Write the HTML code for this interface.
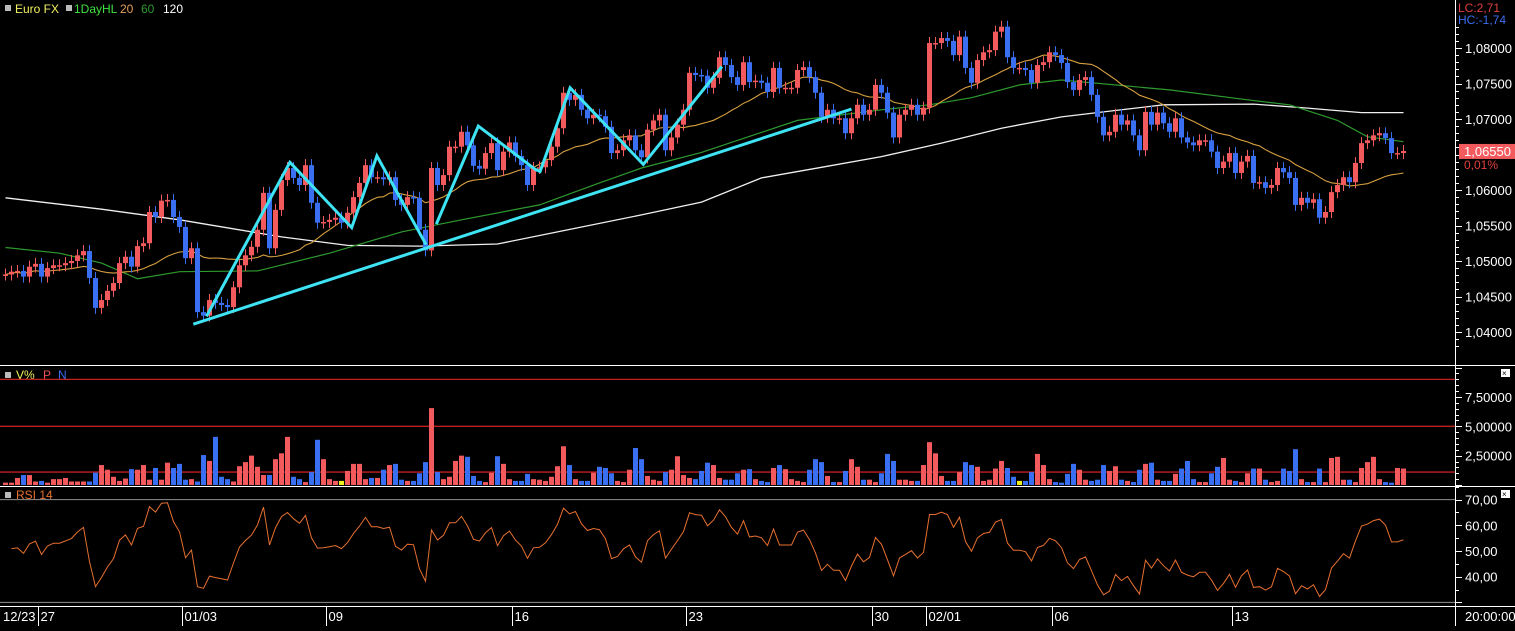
<!DOCTYPE html>
<html><head><meta charset="utf-8">
<style>
html,body{margin:0;padding:0;background:#000;}
body{width:1515px;height:626px;overflow:hidden;font-family:"Liberation Sans",sans-serif;}
svg text{font-family:"Liberation Sans",sans-serif;}
</style></head>
<body>
<svg id="chart" width="1515" height="626" viewBox="0 0 1515 626" xmlns="http://www.w3.org/2000/svg">
<rect x="0" y="0" width="1515" height="626" fill="#000"/>
<g id="frame">
<line x1="0" y1="365.5" x2="1515" y2="365.5" stroke="#fff" stroke-width="1"/>
<line x1="0" y1="486.5" x2="1515" y2="486.5" stroke="#fff" stroke-width="1"/>
<line x1="0" y1="606.5" x2="1515" y2="606.5" stroke="#fff" stroke-width="1"/>
<line x1="1455.5" y1="0" x2="1455.5" y2="626" stroke="#fff" stroke-width="1"/>
</g>
<g id="main-legend" font-size="12">
<rect x="5" y="5" width="6" height="6" fill="#bbb"/>
<text x="15" y="13" fill="#f0f060">Euro FX</text>
<rect x="66" y="5" width="6" height="6" fill="#bbb"/>
<text x="74" y="13" fill="#40e040">1DayHL</text>
<text x="120" y="13" fill="#e0a060">20</text>
<text x="141" y="13" fill="#2e9a2e">60</text>
<text x="163" y="13" fill="#fff">120</text>
</g>
<g id="vol-legend" font-size="12">
<rect x="5" y="372" width="6" height="6" fill="#bbb"/>
<text x="16" y="379" fill="#f0f060">V%</text>
<text x="43" y="379" fill="#f05050">P</text>
<text x="58" y="379" fill="#3d6ef0">N</text>
</g>
<g id="rsi-legend" font-size="12">
<rect x="5" y="492" width="6" height="6" fill="#bbb"/>
<text x="16" y="499" fill="#e87030">RSI 14</text>
</g>
<g><rect x="1501" y="369" width="9" height="8" fill="#fff"/><text x="1502" y="376" font-size="8" fill="#000">×</text></g>
<g><rect x="1501" y="490" width="9" height="8" fill="#fff"/><text x="1502" y="497" font-size="8" fill="#000">×</text></g>
<g id="marks"></g>
</svg>
<script>
// ---- data ----
const closes = [
1.0481,1.0485,1.0486,1.0478,1.0492,1.0496,1.0478,1.0490,1.0494,1.0494,
1.0497,1.0500,1.0508,1.0514,1.0476,1.0434,1.0445,1.0458,1.0469,1.0497,
1.0506,1.0492,1.0521,1.0525,1.0569,1.0562,1.0585,1.0586,1.0562,1.0548,
1.0504,1.0518,1.0428,1.0423,1.0445,1.0441,1.0438,1.0435,1.0463,1.0494,
1.0508,1.0520,1.0544,1.0596,1.0518,1.0572,1.0614,1.0631,1.0617,1.0607,
1.0635,1.0582,1.0554,1.0555,1.0558,1.0561,1.0554,1.0568,1.0590,1.0610,
1.0635,1.0618,1.0618,1.0615,1.0618,1.0586,1.0579,1.0590,1.0589,1.0544,
1.0515,1.0631,1.0607,1.0621,1.0661,1.0661,1.0682,1.0663,1.0634,1.0630,
1.0652,1.0666,1.0628,1.0654,1.0667,1.0648,1.0635,1.0607,1.0631,1.0632,
1.0642,1.0661,1.0687,1.0737,1.0727,1.0734,1.0713,1.0701,1.0706,1.0704,
1.0689,1.0652,1.0656,1.0670,1.0677,1.0656,1.0646,1.0685,1.0698,1.0706,
1.0656,1.0674,1.0692,1.0713,1.0765,1.0762,1.0761,1.0744,1.0758,1.0787,
1.0776,1.0759,1.0748,1.0780,1.0752,1.0754,1.0751,1.0738,1.0772,1.0744,
1.0744,1.0744,1.0769,1.0773,1.0759,1.0737,1.0703,1.0713,1.0701,1.0701,
1.0680,1.0701,1.0720,1.0706,1.0713,1.0748,1.0737,1.0709,1.0674,1.0706,
1.0713,1.0720,1.0706,1.0716,1.0807,1.0807,1.0814,1.0810,1.0790,1.0816,
1.0772,1.0751,1.0783,1.0794,1.0797,1.0823,1.0830,1.0787,1.0772,1.0772,
1.0769,1.0751,1.0776,1.0780,1.0794,1.0790,1.0779,1.0752,1.0741,1.0755,
1.0759,1.0734,1.0703,1.0677,1.0682,1.0706,1.0692,1.0698,1.0677,1.0656,
1.0710,1.0692,1.0709,1.0694,1.0682,1.0701,1.0674,1.0667,1.0663,1.0670,
1.0670,1.0654,1.0631,1.0640,1.0652,1.0624,1.0640,1.0648,1.0610,1.0611,
1.0603,1.0607,1.0631,1.0625,1.0617,1.0579,1.0589,1.0582,1.0587,1.0561,
1.0569,1.0597,1.0607,1.0618,1.0611,1.0638,1.0666,1.0670,1.0677,1.0680,
1.0673,1.0652,1.0652,1.0655];
const volumes = [
0.2,0.2,0.6,0.85,0.85,0.3,0.35,0.2,0.5,0.5,
0.6,0.3,0.3,0.3,0.3,1.05,1.7,1.3,0.7,0.35,
0.55,1.35,1.3,1.7,0.45,1.45,0.45,1.9,1.45,1.8,
0.45,0.5,0.3,2.55,2.05,4.1,0.7,0.5,0.3,1.6,
1.95,2.5,1.55,0.85,0.85,2.2,2.7,4.1,0.7,0.5,
0.25,1.1,3.85,2.2,0.5,0.35,0.35,1.2,1.8,1.8,
0.5,0.6,0.6,1.3,1.7,1.8,0.45,0.35,0.35,1.0,
1.95,6.55,1.1,0.5,0.7,2.05,2.5,2.4,0.77,0.35,
0.25,1.05,2.45,1.8,0.5,0.35,0.35,0.95,0.5,0.45,
0.35,0.7,1.6,3.3,1.7,0.5,0.35,0.35,1.05,1.55,
1.45,1.0,0.35,0.25,1.3,3.15,2.2,0.77,0.45,0.35,
1.1,1.3,2.45,0.85,0.6,0.5,1.2,1.9,1.7,0.6,
0.45,0.45,1.0,1.3,1.35,0.5,0.35,0.25,1.45,1.7,
1.35,0.5,0.35,0.25,1.3,2.2,1.95,0.77,0.25,0.25,
1.2,2.2,1.55,0.45,0.45,0.25,1.0,2.65,2.05,0.45,
0.45,0.35,0.35,1.7,3.65,2.7,0.77,0.35,0.35,1.1,
1.95,1.7,1.55,0.35,0.45,1.4,2.05,1.45,0.7,0.35,
0.35,1.1,2.65,1.7,0.5,0.25,0.2,0.95,1.8,1.3,
0.45,0.35,0.45,1.7,1.2,1.6,0.45,0.35,0.25,1.3,
1.8,1.9,0.45,0.35,0.35,0.95,1.4,2.05,0.5,0.25,
0.25,1.0,1.55,2.3,0.45,0.35,0.25,1.0,1.4,1.4,
0.45,0.25,0.35,1.4,1.2,3.05,0.5,0.25,0.25,1.4,
0.25,2.3,2.4,0.45,0.45,0.25,1.45,1.95,2.4,0.5,
0.25,0.2,1.45,1.4];
const dojiIdx = [56,169];
const ma60Idx = [0,9,16,22,29,42,54,66,76,89,99,106,116,132,146,154,161,169,176,194,207,214,222,227,233];
const ma60Val = [1.0519,1.0511,1.0497,1.0475,1.0485,1.0486,1.0511,1.0541,1.0558,1.0579,1.0610,1.0631,1.0653,1.0698,1.0713,1.0720,1.0730,1.0748,1.0755,1.0741,1.0727,1.0720,1.0698,1.0675,1.0668];
const ma120Idx = [0,16,29,46,57,69,82,92,106,116,126,136,146,156,166,176,183,193,208,216,226,233];
const ma120Val = [1.0589,1.0573,1.0558,1.0534,1.0522,1.0521,1.0524,1.0541,1.0565,1.0583,1.0617,1.0632,1.0647,1.0666,1.0687,1.0703,1.0710,1.0720,1.0721,1.0716,1.0709,1.0709];
const priceTicks = [1.080,1.075,1.070,1.060,1.055,1.050,1.045,1.040];
const priceTickLabels = ["1,08000","1,07500","1,07000","1,06000","1,05500","1,05000","1,04500","1,04000"];
const volTicks = [7.5,5.0,2.5];
const volTickLabels = ["7,50000","5,00000","2,50000"];
const volRefLines = [9.0,5.0,1.1];
const rsiTicks = [70,60,50,40];
const rsiTickLabels = ["70,00","60,00","50,00","40,00"];
const rsiRefLines = [70,30];
const dateIdx = [0,6,30,54,85,114,145,154,175,205];
const dateLabels = ["12/23","27","01/03","09","16","23","30","02/01","06","13"];
// trend drawings: [index, price]
const trendLine = [[31.3,1.0411],[141,1.0714]];
const zigzag1 = [[33.5,1.0422],[47.4,1.0639],[57.7,1.0547],[61.9,1.0648],[70.1,1.0523]];
const zigzag2 = [[71.8,1.0552],[78.8,1.0690],[88.3,1.0629],[89.1,1.0626],[94.1,1.0744],[106.3,1.0636],[119.4,1.0774]];

// ---- axes ----
const xOf = i => 5.5 + 6*i;
const yPrice = p => 48 + (1.08 - p)*7100;
const yVol = v => 485 - v*11.74;
const yRsi = r => 551 - (r-50)*2.57;

const NS = "http://www.w3.org/2000/svg";
const marks = document.getElementById('marks');
function mk(tag, attrs, parent){
  const e = document.createElementNS(NS, tag);
  for (const k in attrs) e.setAttribute(k, attrs[k]);
  (parent||marks).appendChild(e);
  return e;
}
const RED = "#f25a5e", BLUE = "#3b6ff2";

// price axis ticks
const pAxis = mk('g',{});


for (let k=0;k<=60;k++){
  const p = 1.038 + k*0.001;
  const y = Math.round(yPrice(p))+0.5;
  if (y<22||y>362) continue;
  const major = Math.abs((p*1000)%5) < 0.01 || Math.abs((p*1000)%5-5)<0.01;
  mk('line',{x1:1456,x2:major?1462:1459,y1:y,y2:y,stroke:'#fff','stroke-width':1},pAxis);
}
priceTicks.forEach((p,i)=>{
  const t = mk('text',{x:1465,y:yPrice(p)+5,fill:'#fff','font-size':13},pAxis);
  t.textContent = priceTickLabels[i];
  
  
});
let t = mk('text',{x:1458,y:12,fill:'#e04040','font-size':12});
t.textContent='LC:2,71';


t = mk('text',{x:1458,y:24,fill:'#3d6ef0','font-size':12});
t.textContent='HC:-1,74';


const last = closes[closes.length-1];
const cy = yPrice(last);
const box = mk('rect',{x:1459,y:cy-7,width:56,height:15,fill:'#f25a5e'});


t = mk('text',{x:1464,y:cy+5,fill:'#fff','font-size':13});
t.textContent='1,06550';


t = mk('text',{x:1464,y:cy+18,fill:'#e04040','font-size':12});
t.textContent='0,01%';



// moving averages
function polyFromIdx(idx, vals, yf){
  return idx.map((i,k)=>xOf(i).toFixed(1)+','+yf(vals[k]).toFixed(1)).join(' ');
}
const ma120 = mk('polyline',{points:polyFromIdx(ma120Idx,ma120Val,yPrice),fill:'none',stroke:'#f0f0f0','stroke-width':1.3});


const ma60 = mk('polyline',{points:polyFromIdx(ma60Idx,ma60Val,yPrice),fill:'none',stroke:'#2e9a2e','stroke-width':1.2});


const ma20pts = closes.map((c,i)=>{
  const s = Math.max(0,i-19); let sum=0;
  for (let j=s;j<=i;j++) sum+=closes[j];
  return xOf(i).toFixed(1)+','+yPrice(sum/(i-s+1)).toFixed(1);
}).join(' ');
const ma20 = mk('polyline',{points:ma20pts,fill:'none',stroke:'#d8a040','stroke-width':1.1});



// candles
const candleG = mk('g',{});


closes.forEach((c,i)=>{
  const o = i>0 ? closes[i-1] : c;
  const up = c >= o;
  const col = up ? RED : BLUE;
  const x = xOf(i);
  const yt = yPrice(Math.max(o,c)), yb = yPrice(Math.min(o,c));
  const g = mk('g',{},candleG);
  
  
  mk('line',{x1:x,x2:x,y1:yt-6,y2:yb+6,stroke:col,'stroke-width':1},g);
  mk('rect',{x:x-2.5,y:yt,width:5,height:Math.max(1.5,yb-yt),fill:col},g);
});

// trend drawings
function drawPath(pts,name){
  const pl = mk('polyline',{points:pts.map(p=>xOf(p[0]).toFixed(1)+','+yPrice(p[1]).toFixed(1)).join(' '),fill:'none',stroke:'#3ee4f4','stroke-width':3,'stroke-linejoin':'miter'});
  
  
}
drawPath(trendLine,'trend-line');
drawPath(zigzag1,'zigzag-wave-1');
drawPath(zigzag2,'zigzag-wave-2');

// volume panel
const vAxis = mk('g',{});


for (let k=0;k<=20;k++){
  const v = k*0.5; const y = Math.round(yVol(v))+0.5;
  if (y<368) continue;
  mk('line',{x1:1456,x2:(k%5===0)?1462:1459,y1:y,y2:y,stroke:'#fff','stroke-width':1},vAxis);
}
volTicks.forEach((v,i)=>{
  const tt = mk('text',{x:1465,y:yVol(v)+5,fill:'#fff','font-size':13},vAxis);
  tt.textContent = volTickLabels[i];
  
  
});
volRefLines.forEach(v=>{
  const l = mk('line',{x1:0,x2:1455,y1:yVol(v),y2:yVol(v),stroke:'#c02020','stroke-width':1.3});
  
  
});
const volG = mk('g',{});


volumes.forEach((v,i)=>{
  const ci = Math.min(i,closes.length-1);
  const c = closes[ci];
  const o = ci>0 ? closes[ci-1] : c;
  const col = dojiIdx.includes(i) ? '#f0f020' : (c>=o ? RED : BLUE);
  const r = mk('rect',{x:xOf(i)-2.5,y:yVol(v),width:5,height:485-yVol(v),fill:col},volG);
  
  
});

// RSI panel
const rAxis = mk('g',{});


for (let k=0;k<=9;k++){
  const r = 30 + k*5; const y = Math.round(yRsi(r))+0.5;
  mk('line',{x1:1456,x2:(k%2===0)?1462:1459,y1:y,y2:y,stroke:'#fff','stroke-width':1},rAxis);
}
rsiTicks.forEach((r,i)=>{
  const tt = mk('text',{x:1465,y:yRsi(r)+5,fill:'#fff','font-size':13},rAxis);
  tt.textContent = rsiTickLabels[i];
  
  
});
rsiRefLines.forEach(r=>{
  const l = mk('line',{x1:0,x2:1455,y1:yRsi(r),y2:yRsi(r),stroke:'#909090','stroke-width':1});
  
  
});
// compute RSI(14) from closes, Wilder smoothing with neutral seed
const rsi = [];
let ag=0.0008, al=0.0008;
for (let i=1;i<closes.length;i++){
  const d = closes[i]-closes[i-1];
  const g = Math.max(d,0), l = Math.max(-d,0);
  ag = (ag*13+g)/14; al = (al*13+l)/14;
  rsi.push([i, al===0?100:100-100/(1+ag/al)]);
}
const rsiLine = mk('polyline',{points:rsi.map(p=>xOf(p[0]).toFixed(1)+','+yRsi(p[1]).toFixed(1)).join(' '),fill:'none',stroke:'#e87030','stroke-width':1});



// date axis
const dAxis = mk('g',{});


dateIdx.forEach((i,k)=>{
  const x = Math.round(xOf(i)-4)+0.5;
  if (k>0) mk('line',{x1:x,x2:x,y1:607,y2:626,stroke:'#fff','stroke-width':1},dAxis);
  const tt = mk('text',{x:(k===0?3:x+2),y:621,fill:'#fff','font-size':13},dAxis);
  tt.textContent = dateLabels[k];
  
  
});
t = mk('text',{x:1465,y:621,fill:'#fff','font-size':13});
t.textContent='20:00:00';


</script>
</body></html>
